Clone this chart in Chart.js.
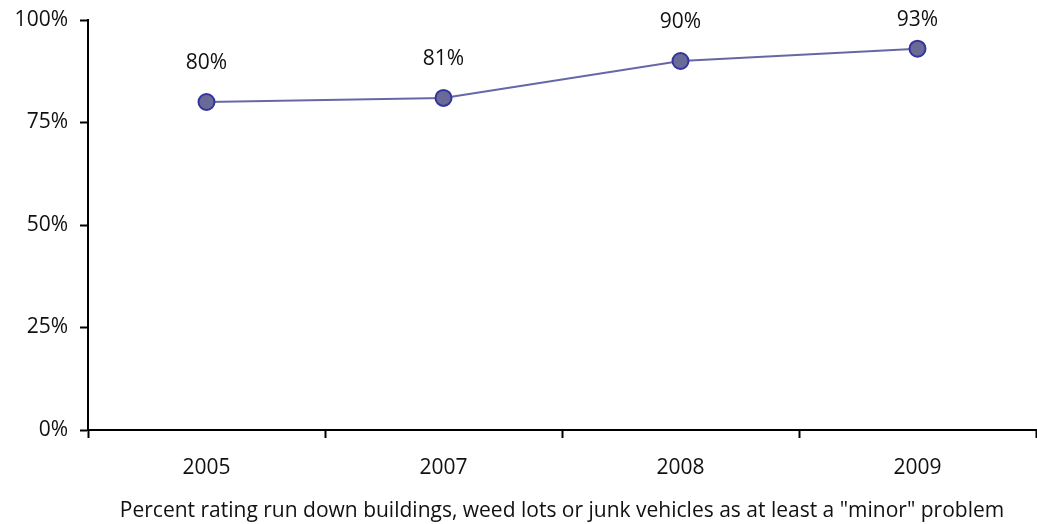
<!DOCTYPE html>
<html lang="en">
<head>
  <meta charset="UTF-8">
  <title>Run down buildings</title>
  <script src="https://cdn.jsdelivr.net/npm/chart.js"></script>
  <style>
    html, body { margin: 0; padding: 0; background: #fff; }
    #wrap { width: 1037px; height: 524px; position: relative; }
  </style>
</head>
<body>
  <div id="wrap"><canvas id="chart"></canvas></div>

  <script>
    // data
    const years = ['2005', '2007', '2008', '2009'];
    const percentValues = [80, 81, 90, 93];
    const yTicks = [0, 25, 50, 75, 100];
    const axisTitle = 'Percent rating run down buildings, weed lots or junk vehicles as at least a "minor" problem';

    const FONT = '"Open Sans", "DejaVu Sans", sans-serif';

    // draws the value above each point (kept inside the plot area)
    const valueLabels = {
      id: 'valueLabels',
      afterDatasetsDraw(chart) {
        const ctx = chart.ctx;
        const meta = chart.getDatasetMeta(0);
        ctx.save();
        ctx.font = '21px ' + FONT;
        ctx.fillStyle = '#111';
        ctx.textAlign = 'center';
        ctx.textBaseline = 'middle';
        meta.data.forEach((pt, i) => {
          const y = Math.max(pt.y - 39, chart.chartArea.top);
          ctx.fillText(chart.data.datasets[0].data[i] + '%', pt.x, y);
        });
        ctx.restore();
      }
    };

    new Chart(document.getElementById('chart'), {
      type: 'line',
      data: {
        labels: years,
        datasets: [{
          data: percentValues,
          borderColor: '#6767a6',
          borderWidth: 2,
          pointRadius: 8,
          pointHoverRadius: 8,
          pointBackgroundColor: '#6a6a98',
          pointBorderColor: '#3434a0',
          pointBorderWidth: 2,
          tension: 0
        }]
      },
      options: {
        responsive: true,
        maintainAspectRatio: false,
        animation: false,
        layout: { autoPadding: false, padding: { top: 20, right: 1, left: 0, bottom: 0 } },
        plugins: {
          legend: { display: false },
          tooltip: { enabled: false }
        },
        scales: {
          x: {
            offset: true,
            grid: {
              offset: true,
              drawOnChartArea: false,
              drawTicks: true,
              tickLength: 8,
              tickWidth: 2,
              color: '#000'
            },
            border: { color: '#000', width: 2 },
            ticks: {
              color: '#111',
              font: { family: FONT, size: 21 },
              padding: 17,
              maxRotation: 0
            },
            title: {
              display: true,
              text: axisTitle,
              color: '#111',
              font: { family: FONT, size: 21 },
              padding: { top: 8, bottom: 0 }
            },
            afterFit(scale) {
              scale.height = 94;
              scale.paddingLeft = 0;
              scale.paddingRight = 0;
            }
          },
          y: {
            min: 0,
            max: 100,
            afterBuildTicks(scale) { scale.ticks = yTicks.map(v => ({ value: v })); },
            grid: {
              drawOnChartArea: false,
              drawTicks: true,
              tickLength: 8,
              tickWidth: 2,
              color: '#000'
            },
            border: { color: '#000', width: 2 },
            ticks: {
              color: '#111',
              font: { family: FONT, size: 21 },
              padding: 12,
              callback: v => v + '%'
            },
            afterFit(scale) {
              scale.width = 88;
              scale.paddingTop = 0;
              scale.paddingBottom = 0;
            }
          }
        }
      },
      plugins: [valueLabels]
    });
  </script>
</body>
</html>
